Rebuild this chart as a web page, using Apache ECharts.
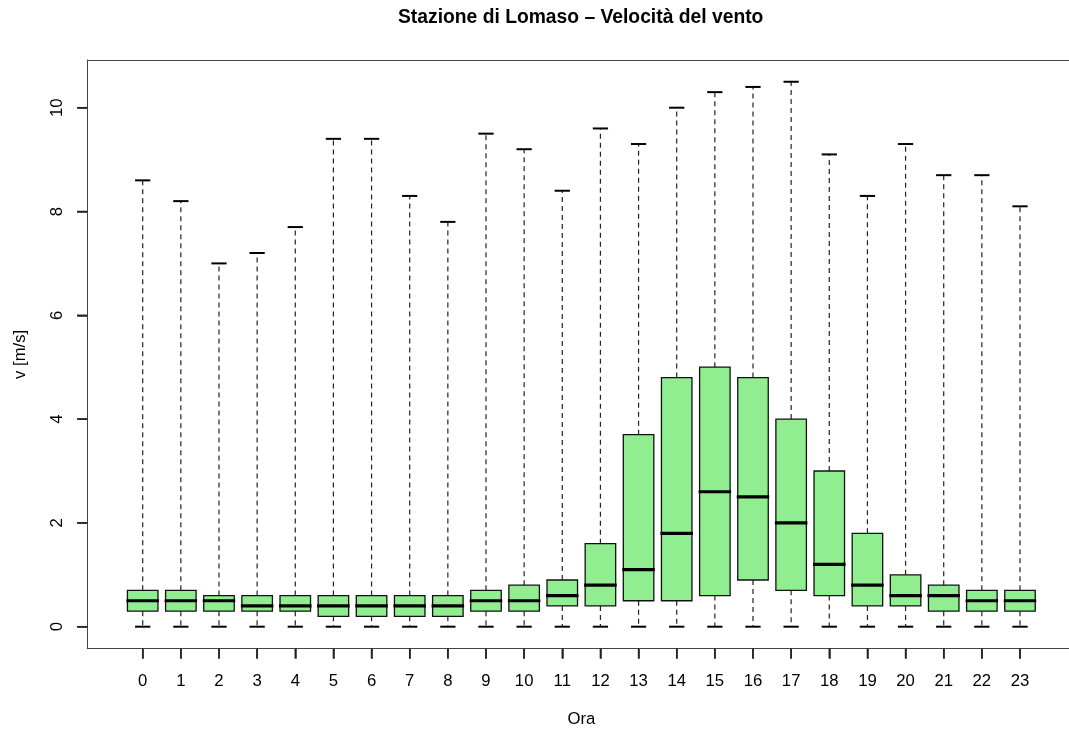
<!DOCTYPE html>
<html><head><meta charset="utf-8">
<script src="https://cdn.jsdelivr.net/npm/echarts@6/dist/echarts.min.js"></script>
<style>html,body{margin:0;padding:0;background:#fff}#c{width:1069px;height:729px}</style>
</head><body><div id="c"></div>
<script>
const hours = [0,1,2,3,4,5,6,7,8,9,10,11,12,13,14,15,16,17,18,19,20,21,22,23];
const whiskerLow = [0,0,0,0,0,0,0,0,0,0,0,0,0,0,0,0,0,0,0,0,0,0,0,0];
const q1 = [0.3,0.3,0.3,0.3,0.3,0.2,0.2,0.2,0.2,0.3,0.3,0.4,0.4,0.5,0.5,0.6,0.9,0.7,0.6,0.4,0.4,0.3,0.3,0.3];
const median = [0.5,0.5,0.5,0.4,0.4,0.4,0.4,0.4,0.4,0.5,0.5,0.6,0.8,1.1,1.8,2.6,2.5,2.0,1.2,0.8,0.6,0.6,0.5,0.5];
const q3 = [0.7,0.7,0.6,0.6,0.6,0.6,0.6,0.6,0.6,0.7,0.8,0.9,1.6,3.7,4.8,5.0,4.8,4.0,3.0,1.8,1.0,0.8,0.7,0.7];
const whiskerHigh = [8.6,8.2,7.0,7.2,7.7,9.4,9.4,8.3,7.8,9.5,9.2,8.4,9.6,9.3,10.0,10.3,10.4,10.5,9.1,8.3,9.3,8.7,8.7,8.1];
const yTicks = [0,2,4,6,8,10];

const titleText = 'Stazione di Lomaso – Velocità del vento';
const xName = 'Ora';
const yName = 'v [m/s]';

const FONT = 'Liberation Sans, Arial, Helvetica, sans-serif';
const data = hours.map((h, i) => [h, whiskerLow[i], q1[i], median[i], q3[i], whiskerHigh[i]]);
const TICK_LEN = 10;
const yMaxData = Math.max(...whiskerHigh);
const Y_FRAME_LO = -0.04 * yMaxData;
const X_FRAME_LO = -0.5 - 0.04 * hours.length;

function renderItem(params, api) {
  const x = api.value(0);
  const unit = api.size([1, 0])[0];
  const bw = unit * 0.8, cw = unit * 0.4;
  const pLow = api.coord([x, api.value(1)]);
  const pQ1 = api.coord([x, api.value(2)]);
  const pMed = api.coord([x, api.value(3)]);
  const pQ3 = api.coord([x, api.value(4)]);
  const pHigh = api.coord([x, api.value(5)]);
  const cx = pMed[0];
  const dash = { stroke: '#222', lineWidth: 1.2, lineDash: [5, 4] };
  const solid = { stroke: '#000', lineWidth: 2 };
  const tickStyle = { stroke: '#222', lineWidth: 1.5 };
  const pTick = api.coord([x, Y_FRAME_LO]);
  const children = [
    { type: 'line', shape: { x1: cx, y1: pQ3[1], x2: cx, y2: pHigh[1] }, style: dash },
    { type: 'line', shape: { x1: cx, y1: pQ1[1], x2: cx, y2: pLow[1] }, style: dash },
    { type: 'line', shape: { x1: cx - cw / 2, y1: pHigh[1], x2: cx + cw / 2, y2: pHigh[1] }, style: solid },
    { type: 'line', shape: { x1: cx - cw / 2, y1: pLow[1], x2: cx + cw / 2, y2: pLow[1] }, style: solid },
    { type: 'rect', shape: { x: cx - bw / 2, y: pQ3[1], width: bw, height: pQ1[1] - pQ3[1] },
      style: { fill: '#90EE90', stroke: '#111', lineWidth: 1.3 } },
    { type: 'line', shape: { x1: cx - bw / 2 - 1, y1: pMed[1], x2: cx + bw / 2 + 1, y2: pMed[1] },
      style: { stroke: '#000', lineWidth: 3.2 } },
    { type: 'line', z2: 100, shape: { x1: pTick[0], y1: pTick[1], x2: pTick[0], y2: pTick[1] + TICK_LEN }, style: tickStyle }
  ];
  if (params.dataIndex === 0) {
    yTicks.forEach(v => {
      const p = api.coord([X_FRAME_LO, v]);
      children.push({ type: 'line', z2: 100, shape: { x1: p[0], y1: p[1], x2: p[0] - TICK_LEN, y2: p[1] }, style: tickStyle });
    });
  }
  return { type: 'group', children: children };
}

const LINE = { color: '#444', width: 1 };
const frameAxis = (gi, pos) => ({ gridIndex: gi, type: 'value', min: 0, max: 1, position: pos,
  axisLine: { show: true, onZero: false, lineStyle: LINE }, axisTick: { show: false },
  axisLabel: { show: false }, splitLine: { show: false } });

const FRAME = { left: 87.3, right: 0, top: 60, bottom: 80.3 };
const DATA = { left: 142.7, right: 49, top: 107.7, bottom: 102.3 };
const g = (o) => Object.assign({ show: false, containLabel: false, outerBoundsMode: 'none' }, o);

const chart = echarts.init(document.getElementById('c'), null, { renderer: 'canvas' });
chart.setOption({
  backgroundColor: '#fff',
  animation: false,
  title: {
    text: titleText, left: 398, top: 8, padding: 0,
    textStyle: { fontFamily: FONT, fontSize: 19.3, fontWeight: 'bold', color: '#000' }
  },
  grid: [
    g(FRAME),
    g(DATA),
    g({ left: DATA.left, right: DATA.right, top: FRAME.top, bottom: FRAME.bottom }),
    g({ left: FRAME.left, right: FRAME.right, top: DATA.top, bottom: DATA.bottom })
  ],
  xAxis: [
    frameAxis(0, 'bottom'),
    frameAxis(0, 'top'),
    { gridIndex: 1, type: 'value', min: 0, max: 23, show: false },
    { gridIndex: 2, type: 'value', min: 0, max: 23, interval: 1, position: 'bottom',
      axisLine: { show: true, onZero: false, lineStyle: LINE },
      axisTick: { show: true, length: TICK_LEN, lineStyle: { color: '#222', width: 1.5 } },
      axisLabel: { margin: 24, fontFamily: FONT, fontSize: 16.7, color: '#000',
        formatter: v => (hours.indexOf(v) >= 0 ? String(v) : '') },
      splitLine: { show: false },
      name: xName, nameLocation: 'middle', nameGap: 62,
      nameTextStyle: { fontFamily: FONT, fontSize: 16.7, color: '#000' } },
    { gridIndex: 3, type: 'value', min: 0, max: 1, show: false }
  ],
  yAxis: [
    Object.assign(frameAxis(0, 'left'), {
      name: yName, nameLocation: 'middle', nameGap: 58, nameRotate: 90,
      nameTextStyle: { fontFamily: FONT, fontSize: 16.7, color: '#000' } }),
    { gridIndex: 1, type: 'value', min: 0, max: 10, show: false },
    { gridIndex: 2, type: 'value', min: 0, max: 1, show: false },
    { gridIndex: 3, type: 'value', min: 0, max: 10, interval: 2, position: 'left',
      axisLine: { show: true, onZero: false, lineStyle: LINE },
      axisTick: { show: true, length: TICK_LEN, lineStyle: { color: '#222', width: 1.5 } },
      axisLabel: { rotate: 90, margin: 21, fontFamily: FONT, fontSize: 16.7, color: '#000',
        formatter: v => (yTicks.indexOf(v) >= 0 ? String(v) : '') },
      splitLine: { show: false } }
  ],
  series: [
    { type: 'custom', xAxisIndex: 2, yAxisIndex: 1, clip: false,
      renderItem: renderItem, encode: { x: 0, y: [1, 2, 3, 4, 5] }, data: data, silent: true }
  ]
});
</script></body></html>
